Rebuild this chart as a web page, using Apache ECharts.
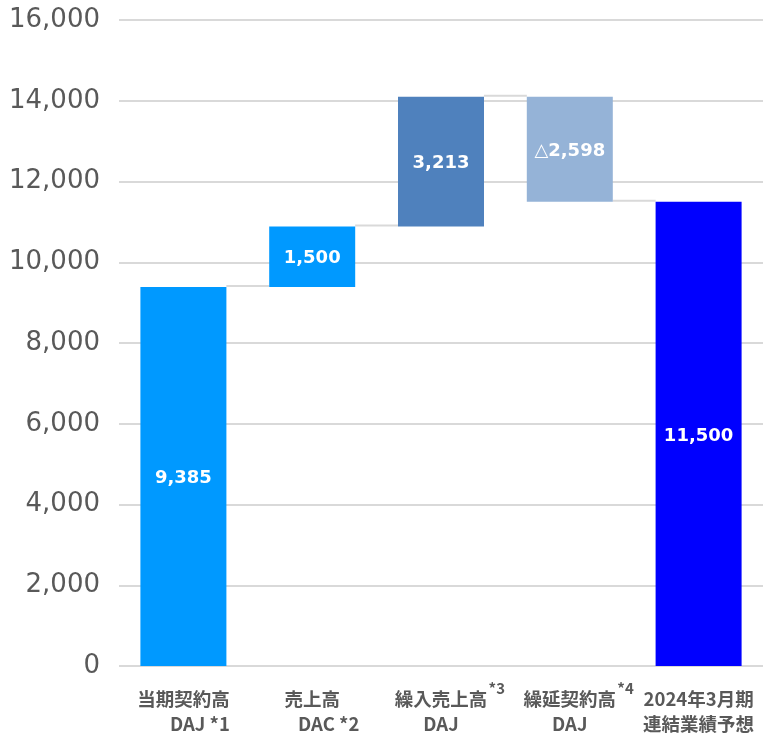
<!DOCTYPE html>
<html>
<head>
<meta charset="utf-8">
<script src="https://cdn.jsdelivr.net/npm/echarts@6/dist/echarts.min.js"></script>
<style>
html,body{margin:0;padding:0;background:#fff;}
#chart{width:763px;height:735px;}
</style>
</head>
<body>
<div id="chart"></div>
<script>
// ---- data ----
var categoryMain = ['当期契約高', '売上高', '繰入売上高', '繰延契約高', '2024年3月期'];
var categorySub = ['DAJ *1', 'DAC *2', 'DAJ', 'DAJ', '連結業績予想'];
var categorySup = ['', '', '*3', '*4', ''];
var values = [9385, 1500, 3213, -2598, 11500];
var isTotal = [true, false, false, false, true];
var barColors = ['#0099FF', '#0099FF', '#4F81BD', '#95B3D7', '#0000FF'];
var yTicks = {min: 0, max: 16000, interval: 2000};

// ---- build waterfall ----
var base = [], shown = [], levels = [];
var run = 0;
for (var i = 0; i < values.length; i++) {
  if (isTotal[i]) {
    base.push(0); shown.push(values[i]); run = values[i];
  } else if (values[i] >= 0) {
    base.push(run); shown.push(values[i]); run += values[i];
  } else {
    run += values[i]; base.push(run); shown.push(-values[i]);
  }
  levels.push(run);
}

function fmt(n) { return String(n).replace(/\B(?=(\d{3})+(?!\d))/g, ','); }

var catLabels = categoryMain.map(function (m, i) {
  return m + '|' + categorySub[i] + '|' + categorySup[i];
});

var XF = 18.5;
var chart = echarts.init(document.getElementById('chart'));
var option = {
  animation: false,
  grid: {left: 119, right: 0, top: 20, bottom: 69, containLabel: false},
  xAxis: {
    type: 'category',
    data: catLabels,
    axisLine: {show: false},
    axisTick: {show: false},
    axisLabel: {
      interval: 0,
      margin: 20,
      formatter: function (v, idx) {
        var p = v.split('|');
        var l1, l2;
        if (p[2]) {
          l1 = '{padsup|}{main|' + p[0] + '}{sup|' + p[2] + '}';
        } else {
          l1 = '{main|' + p[0] + '}';
        }
        if (idx === 0 || idx === 1) {
          l2 = '{subind|' + p[1] + '}';
        } else {
          l2 = '{main|' + p[1] + '}';
        }
        return l1 + '\n' + l2;
      },
      rich: {
        main: {fontFamily: 'Noto Sans CJK JP', fontWeight: 'bold', fontSize: XF, color: '#595959', lineHeight: 25},
        subind: {fontFamily: 'Noto Sans CJK JP', fontWeight: 'bold', fontSize: XF, color: '#595959', lineHeight: 25, padding: [0, 0, 0, 33]},
        sup: {fontFamily: 'Noto Sans CJK JP', fontWeight: 'bold', fontSize: 15, color: '#595959', lineHeight: 4, padding: [0, 0, 21, 0], width: 19},
        padsup: {width: 19, lineHeight: 25}
      }
    }
  },
  yAxis: {
    type: 'value',
    min: yTicks.min, max: yTicks.max, interval: yTicks.interval,
    axisLine: {show: false},
    axisTick: {show: false},
    splitLine: {lineStyle: {color: '#D9D9D9', width: 2}},
    axisLabel: {
      margin: 19,
      color: '#595959',
      fontSize: 26,
      fontFamily: 'DejaVu Sans',
      formatter: function (v) { return fmt(v); }
    }
  },
  series: [
    {
      type: 'bar', stack: 'wf', data: base, barWidth: 86,
      itemStyle: {color: 'transparent'}, silent: true
    },
    {
      type: 'bar', stack: 'wf', barWidth: 86,
      data: shown.map(function (v, i) { return {value: v, itemStyle: {color: barColors[i]}}; }),
      label: {
        show: true, position: 'inside', offset: [0, 2],
        formatter: function (p) {
          var i = p.dataIndex;
          if (values[i] < 0) return '{tri|△}{num|' + fmt(-values[i]) + '}';
          return '{num|' + fmt(values[i]) + '}';
        },
        rich: {
          num: {color: '#fff', fontWeight: 'bold', fontSize: 18, fontFamily: 'DejaVu Sans'},
          tri: {color: '#fff', fontWeight: 'normal', fontSize: 18, fontFamily: 'DejaVu Sans'}
        }
      }
    },
    {
      type: 'custom',
      silent: true,
      z: 1,
      data: levels.slice(0, levels.length - 1).map(function (lv, i) { return [i, lv]; }),
      renderItem: function (params, api) {
        var i = api.value(0), lv = api.value(1);
        var p1 = api.coord([i, lv]);
        var p2 = api.coord([i + 1, lv]);
        var bw = api.size([1, 0])[0] * 0.6667;
        return {
          type: 'line',
          shape: {x1: p1[0] + bw / 2, y1: p1[1] - 1, x2: p2[0] - bw / 2, y2: p2[1] - 1},
          style: {stroke: '#D9D9D9', lineWidth: 2}
        };
      }
    }
  ]
};
chart.setOption(option);
</script>
</body>
</html>
